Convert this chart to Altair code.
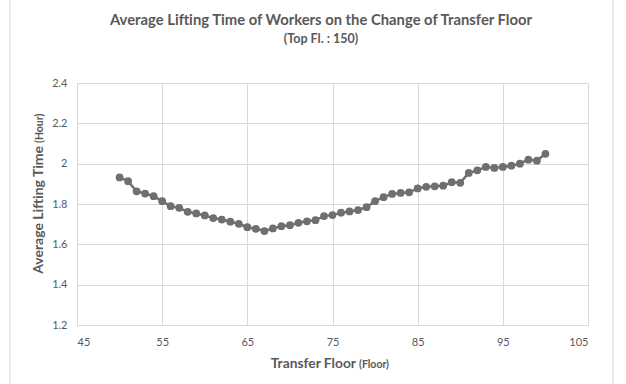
import altair as alt
import pandas as pd

floors = [50, 51, 52, 53, 54, 55, 56, 57, 58, 59, 60, 61, 62, 63, 64, 65, 66, 67, 68, 69,
          70, 71, 72, 73, 74, 75, 76, 77, 78, 79, 80, 81, 82, 83, 84, 85, 86, 87, 88, 89,
          90, 91, 92, 93, 94, 95, 96, 97, 98, 99, 100]
lifting_time = [1.932, 1.913, 1.863, 1.852, 1.839, 1.814, 1.789, 1.781, 1.761, 1.753,
                1.743, 1.730, 1.723, 1.712, 1.702, 1.685, 1.677, 1.666, 1.679, 1.690,
                1.695, 1.707, 1.714, 1.720, 1.740, 1.745, 1.757, 1.763, 1.770, 1.784,
                1.814, 1.834, 1.850, 1.855, 1.858, 1.877, 1.885, 1.888, 1.891, 1.908,
                1.905, 1.954, 1.967, 1.984, 1.979, 1.984, 1.990, 2.000, 2.020, 2.015,
                2.049]
x_ticks = [45, 55, 65, 75, 85, 95, 105]
y_ticks = [1.2, 1.4, 1.6, 1.8, 2.0, 2.2, 2.4]

FONT = "Lato"
TXT = "#595959"
GRID = "#d9d9d9"
MARK = "#6f6f6f"

df = pd.DataFrame({"floor": floors, "time": lifting_time})

x = alt.X("floor:Q", scale=alt.Scale(domain=[45, 105], nice=False),
          axis=alt.Axis(values=x_ticks, title=None, grid=True, gridColor=GRID,
                        domain=False, ticks=False, labelColor=TXT, labelFontSize=11,
                        labelFont=FONT, labelPadding=11))
y = alt.Y("time:Q", scale=alt.Scale(domain=[1.2, 2.4], nice=False, zero=False),
          axis=alt.Axis(values=y_ticks, format="~g", title=None, grid=True, gridColor=GRID,
                        domain=False, ticks=False, labelColor=TXT, labelFontSize=11,
                        labelFont=FONT, labelPadding=10))

base = alt.Chart(df)
line = base.mark_line(color=MARK, strokeWidth=2.5).encode(x=x, y=y)
pts = base.mark_circle(color=MARK, size=60, opacity=1).encode(x=x, y=y)

border = alt.Chart(pd.DataFrame({"a": [0]})).mark_rect(
    fill=None, stroke=GRID, strokeWidth=1).encode(
    x=alt.value(-67), x2=alt.value(536), y=alt.value(-95), y2=alt.value(310))

def label(t, px, py, size, angle=0, align="center"):
    return alt.Chart(pd.DataFrame({"t": [t]})).mark_text(
        font=FONT, fontWeight="bold", fontSize=size, color=TXT, angle=angle,
        align=align, baseline="alphabetic").encode(
        text="t:N", x=alt.value(px), y=alt.value(py))

title1 = label("Average Lifting Time of Workers on the Change of Transfer Floor", 244, -58, 14.8)
title2 = label("(Top Fl. : 150)", 244, -40, 12.5)
xt1 = label("Transfer Floor", 279, 285, 13.8, align="right")
xt2 = label("(Floor)", 282, 285, 10.5, align="left")
yt1 = label("Average Lifting Time", -34, 63, 14, 270, align="right")
yt2 = label("(Hour)", -34, 60, 10.5, 270, align="left")

chart = alt.layer(border, line, pts, title1, title2, xt1, xt2, yt1, yt2).properties(
    width=511, height=242,
    autosize=alt.AutoSizeParams(type="none"),
    padding={"left": 77, "top": 83, "right": 38, "bottom": 59},
).configure_view(stroke=None).configure(background="white")

chart.save("out.html", embed_options={"renderer": "svg", "actions": False})
